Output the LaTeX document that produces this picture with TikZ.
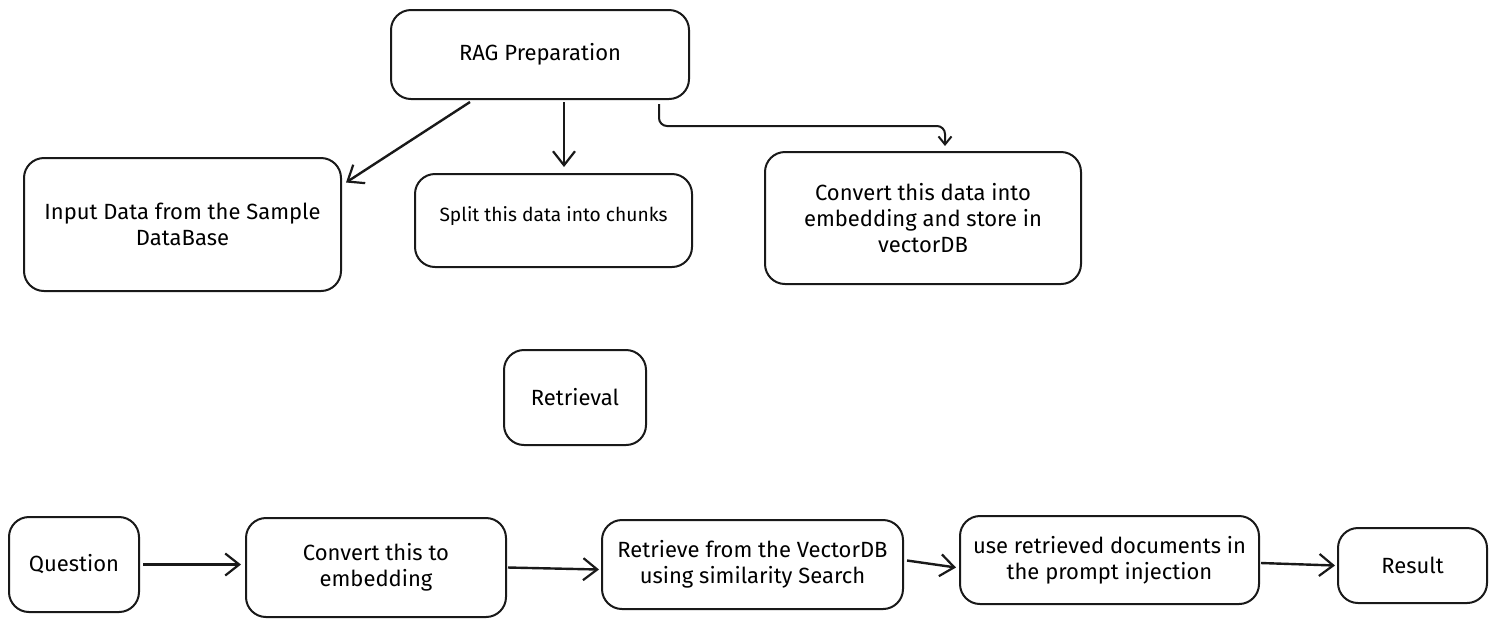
\documentclass[tikz,border=0pt]{standalone}
\usepackage{fontspec}
\setmainfont{Fira Sans}
\usetikzlibrary{arrows.meta}
\begin{document}
\begin{tikzpicture}[x=0.5pt,y=-0.5pt,
  box/.style 2 args={draw=black!90, line width=1pt, rounded corners=10pt, fill=white,
    minimum width=#1*0.5pt, minimum height=#2*0.5pt, inner sep=0pt, align=center,
    font=\fontsize{11}{13}\selectfont},
  arr/.style={draw=black!90, line width=1.2pt, -{Straight Barb[length=7pt,width=11pt,line width=1.1pt]}},
  sarr/.style={draw=black!90, line width=1pt, -{Straight Barb[length=4pt,width=6.5pt,line width=1pt]}}]
\useasboundingbox[fill=white] (0,0) rectangle (1497,629);
% top row
\node[box={298}{89}] (rag) at (540,54.5) {RAG Preparation};
\node[box={317}{133}] (input) at (182.5,224.5) {Input Data from the Sample\\DataBase};
\node[box={277}{93}, font=\fontsize{9.6}{12}\selectfont, text depth=7pt] (split) at (553.5,220.5) {Split this data into chunks};
\node[box={316}{132}] (conv) at (923,218) {Convert this data into\\embedding and store in\\vectorDB};
% middle
\node[box={142}{95}] (retr) at (575,397.5) {Retrieval};
% bottom row
\node[box={130}{95}] (q) at (74,564.5) {Question};
\node[box={260}{99}] (emb) at (376,567.5) {Convert this to\\embedding};
\node[box={301}{89}] (vec) at (752.5,564.5) {Retrieve from the VectorDB\\using similarity Search};
\node[box={299}{88}] (use) at (1109.5,560) {use retrieved documents in\\the prompt injection};
\node[box={149}{75}] (res) at (1412.5,565.5) {Result};
% top arrows
\draw[arr] ([xshift=-35pt,yshift=-1pt]rag.south) -- ([xshift=2pt,yshift=21pt]input.east);
\draw[arr] ([xshift=12pt,yshift=-1pt]rag.south) -- ([xshift=5.25pt,yshift=3pt]split.north);
\draw[sarr, rounded corners=4pt] ([xshift=59.5pt,yshift=-2pt]rag.south) -- ++(0,22) -| ([xshift=11pt,yshift=2.5pt]conv.north);
% bottom arrows
\draw[arr] ([xshift=1.5pt]q.east) -- ([xshift=-2pt]q.east -| emb.west);
\draw[arr] ([xshift=0.5pt]emb.east) -- ([xshift=-1pt,yshift=-1pt]emb.east -| vec.west);
\draw[arr] ([xshift=1.5pt,yshift=2pt]vec.east) -- ([xshift=-1.5pt,yshift=-1.5pt]vec.east -| use.west);
\draw[arr] ([xshift=0.5pt,yshift=-1.5pt]use.east) -- ([xshift=-1pt]res.west);
\end{tikzpicture}
\end{document}
